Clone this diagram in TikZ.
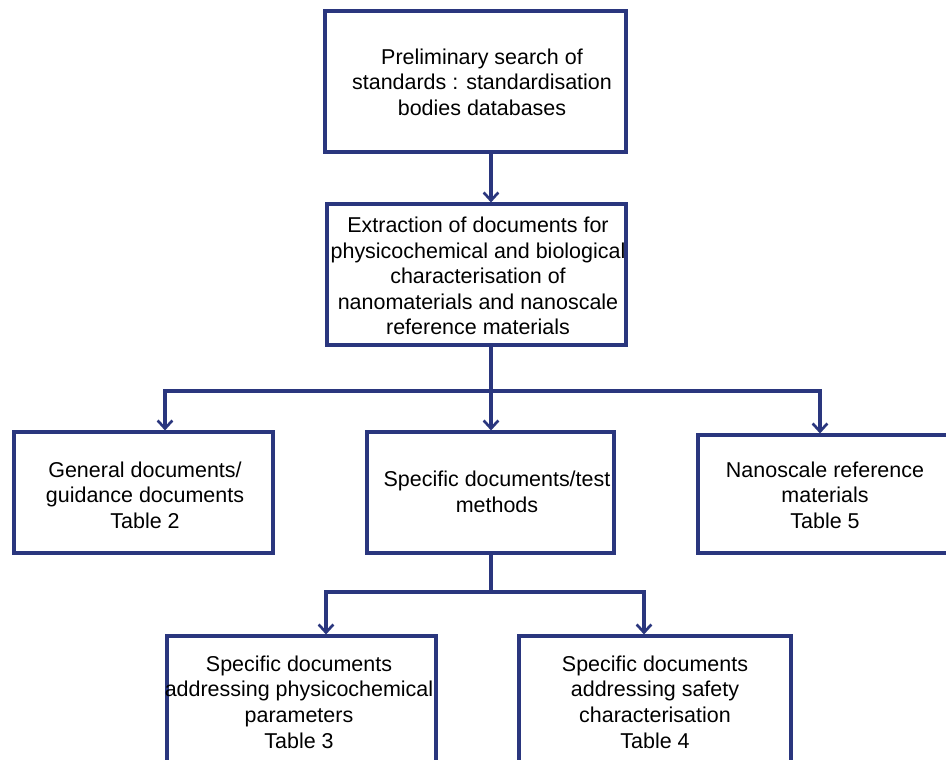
\documentclass[tikz,border=0pt]{standalone}
\usepackage{fontspec}
\setmainfont{Liberation Sans}
\usetikzlibrary{arrows.meta}
\definecolor{navy}{RGB}{42,54,126}
\begin{document}
\begin{tikzpicture}[x=0.75pt,y=-0.75pt,
  boxstyle/.style={draw=navy, line width=2.3pt, rectangle, inner sep=0pt},
  txtstyle/.style={inner sep=0pt, align=center, font=\fontsize{16.1}{19.2}\selectfont, text=black},
  conn/.style={draw=navy, line width=2.3pt},
  arr/.style={conn, -{Straight Barb[length=6pt,width=11pt,line width=2pt]}}]
\path[use as bounding box, clip] (0,0) rectangle (946,760);
% boxes
\node[boxstyle, minimum width=301*0.75pt, minimum height=141*0.75pt] (b1) at (475.5,81.5) {};
\node[txtstyle] (t1) at (482,82) {Preliminary search of\\standards : standardisation\\bodies databases};
\node[boxstyle, minimum width=299*0.75pt, minimum height=141*0.75pt] (b2) at (476.5,274.5) {};
\node[txtstyle] (t2) at (478,276) {Extraction of documents for\\physicochemical and biological\\characterisation of\\nanomaterials and nanoscale\\reference materials};
\node[boxstyle, minimum width=259*0.75pt, minimum height=121*0.75pt] (b3) at (143.5,492.5) {};
\node[txtstyle] (t3) at (145,495) {General documents/\\guidance documents\\Table 2};
\node[boxstyle, minimum width=247*0.75pt, minimum height=121*0.75pt] (b4) at (490.5,492.5) {};
\node[txtstyle] (t4) at (497,492) {Specific documents/test\\methods};
\node[boxstyle, minimum width=270*0.75pt, minimum height=118*0.75pt] (b5) at (833,494) {};
\node[txtstyle] (t5) at (825,495) {Nanoscale reference\\materials\\Table 5};
\node[boxstyle, minimum width=269*0.75pt, minimum height=200*0.75pt] (b6) at (301.5,736) {};
\node[txtstyle] (t6) at (299,702) {Specific documents\\addressing physicochemical\\parameters\\Table 3};
\node[boxstyle, minimum width=272*0.75pt, minimum height=200*0.75pt] (b7) at (655,736) {};
\node[txtstyle] (t7) at (655,702) {Specific documents\\addressing safety\\characterisation\\Table 4};
% junction coordinates
\coordinate (m0) at (491,0);
\coordinate (j1) at (491,391);
\coordinate (l1) at (165,391);
\coordinate (r1) at (820,391);
\coordinate (j2) at (491,592);
\coordinate (l2) at (326,592);
\coordinate (r2) at (644,592);
% connectors
\draw[arr] (b1.south -| m0) -- (b2.north -| m0);
\draw[conn] (b2.south -| j1) -- (j1);
\draw[arr] (j1) -- (l1) -- (b3.north -| l1);
\draw[arr] (j1) -- (r1) -- (b5.north -| r1);
\draw[arr] (j1) -- (b4.north -| j1);
\draw[conn] (b4.south -| j2) -- (j2);
\draw[arr] (j2) -- (l2) -- (b6.north -| l2);
\draw[arr] (j2) -- (r2) -- (b7.north -| r2);
\end{tikzpicture}
\end{document}
